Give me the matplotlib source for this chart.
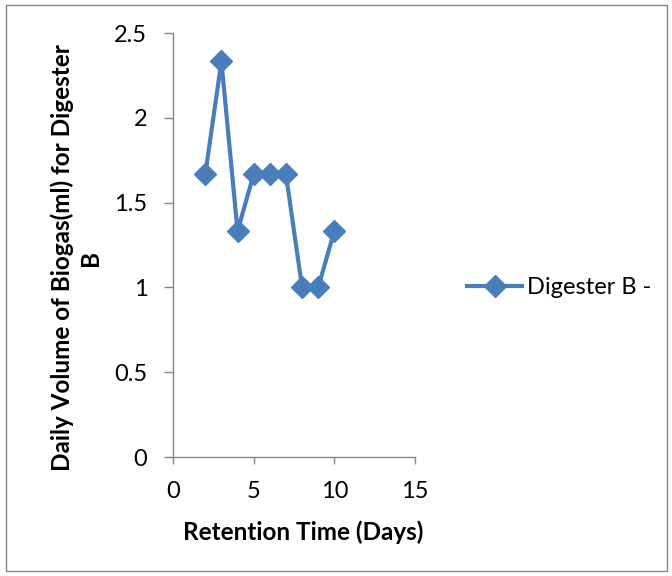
import matplotlib
matplotlib.use('Agg')
import matplotlib.pyplot as plt
from matplotlib.patches import Rectangle

# Retention time (days) vs daily biogas volume for digester B
days = [2, 3, 4, 5, 6, 7, 8, 9, 10]
volume = [1.667, 2.333, 1.333, 1.667, 1.667, 1.667, 1.0, 1.0, 1.333]

plt.rcParams['font.family'] = ['Lato', 'DejaVu Sans']

fig = plt.figure(figsize=(6.72, 5.76), dpi=100)
ax = fig.add_axes([173/672, 1 - 457/576, (415 - 173)/672, (457 - 33)/576])

blue = '#4a7ebb'
grey = '#868686'

ax.plot(days, volume, color=blue, linewidth=3, marker='D', markersize=11,
        markerfacecolor=blue, markeredgecolor=blue, label='Digester B -')

ax.set_xlim(0, 15)
ax.set_ylim(0, 2.5)
ax.set_xticks([0, 5, 10, 15])
ax.set_yticks([0, 0.5, 1, 1.5, 2, 2.5])
ax.set_yticklabels(['0', '0.5', '1', '1.5', '2', '2.5'])

for s in ['top', 'right']:
    ax.spines[s].set_visible(False)
for s in ['left', 'bottom']:
    ax.spines[s].set_color(grey)
    ax.spines[s].set_linewidth(1)
ax.tick_params(axis='x', direction='out', length=5, width=1, color=grey,
               labelsize=17, pad=12)
ax.tick_params(axis='y', direction='out', length=6.5, width=1, color=grey,
               labelsize=17, pad=12)

# axis titles placed like the original (Excel) chart
fig.text(303/672, 1 - 532/576, 'Retention Time (Days)', fontsize=17.5,
         fontweight='bold', ha='center', va='center')
fig.text(62/672, 1 - 258/576, 'Daily Volume of Biogas(ml) for Digester', fontsize=17.5,
         fontweight='bold', ha='center', va='center', rotation=90)
fig.text(90/672, 1 - 258/576, 'B', fontsize=17.5,
         fontweight='bold', ha='center', va='center', rotation=90)

fig.legend(loc='center left', bbox_to_anchor=(467/672, 1 - 288/576), frameon=False,
           fontsize=17, handlelength=2.35, handletextpad=0.2,
           borderpad=0, borderaxespad=0)

# thin grey frame around the whole chart
fig.patches.append(Rectangle((6/672, 5/576), 661/672, 566/576, transform=fig.transFigure,
                             fill=False, edgecolor=grey, linewidth=1))

fig.savefig('out.png', dpi=100)
plt.close()
